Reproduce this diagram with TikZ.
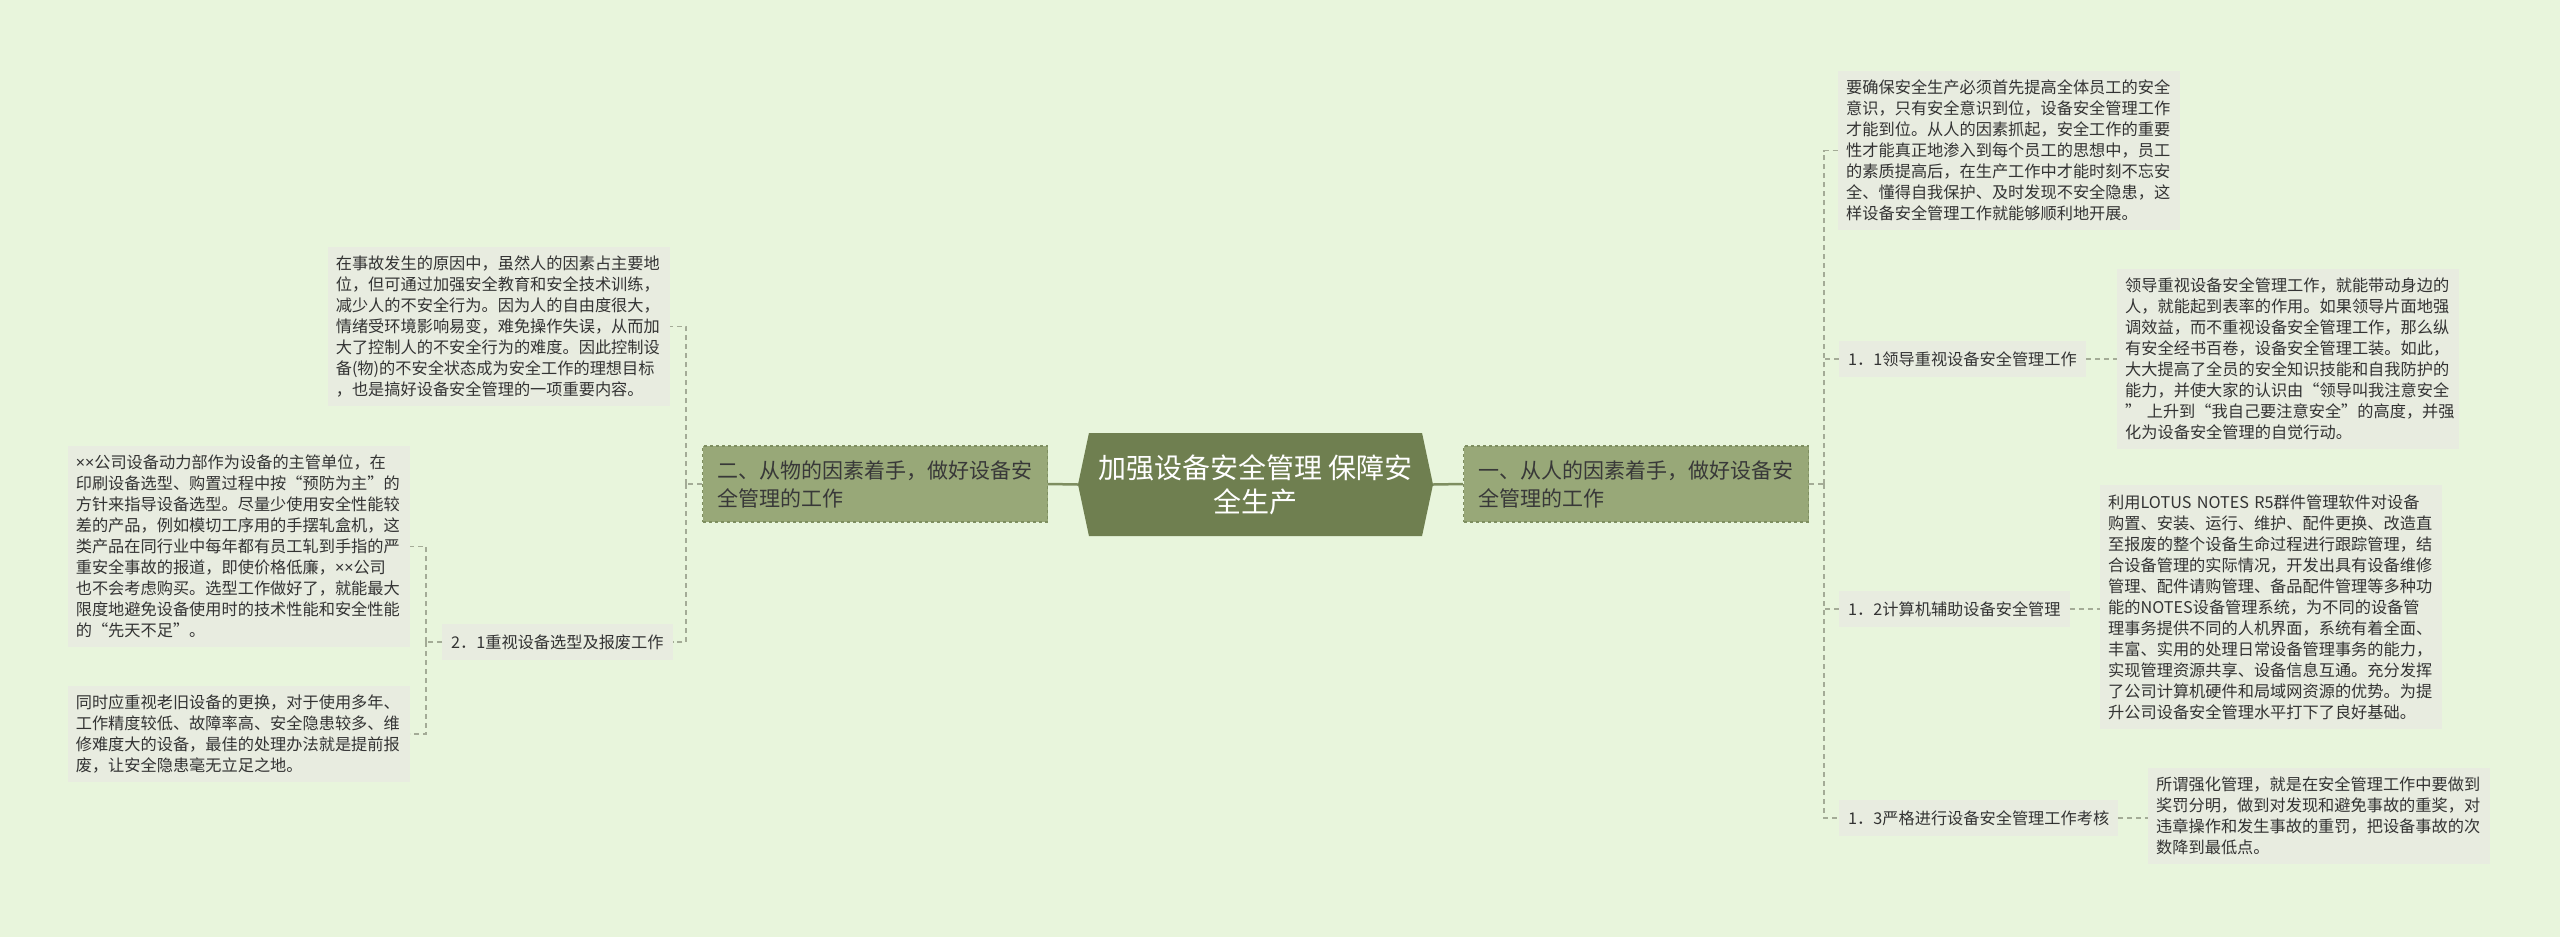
\documentclass[tikz,border=0pt]{standalone}
\usepackage{fontspec}
\setmainfont{Noto Sans CJK SC}
\newfontfamily\latinfont{Noto Sans}
\usepackage{tikz}
\usetikzlibrary{shapes.symbols}
\definecolor{bg}{HTML}{E8F5DC}
\definecolor{rootfill}{HTML}{6F7F50}
\definecolor{mainfill}{HTML}{98A878}
\definecolor{mainline}{HTML}{7E8E60}
\definecolor{boxfill}{HTML}{E8ECE0}
\definecolor{linkcol}{HTML}{A3AB96}
\definecolor{txt}{HTML}{333333}
\newcommand{\xx}{{\latinfont ××}}

\begin{document}
\begin{tikzpicture}[x=1pt,y=-1pt,
  root/.style={shape=signal, signal to=west and east, signal pointer angle=156,
    fill=rootfill, text=white, minimum width=355pt, minimum height=103pt,
    inner sep=0pt, align=center, font=\fontsize{28}{34}\selectfont},
  branch/.style={fill=mainfill, draw=mainline, dashed, line width=1.2pt,
    text=black!78, text width=315pt, align=left, inner xsep=15pt,
    minimum height=76pt, font=\fontsize{21}{28}\selectfont},
  sub/.style={fill=boxfill, text=txt, inner xsep=9pt, minimum height=36pt,
    font=\fontsize{16.2}{21}\selectfont},
  leaf/.style={fill=boxfill, text=txt, text width=326pt, align=left,
    inner xsep=8pt, inner ysep=9pt, font=\fontsize{16.2}{21}\selectfont},
  link/.style={draw=linkcol, line width=1.3pt, dash pattern=on 5pt off 4pt}]
  \def\rx{1824}
  \def\lx{686}
  \def\llx{426}

  \fill[bg] (0,0) rectangle (2560,937);
  \useasboundingbox (0,0) rectangle (2560,937);

  % Root and main branches
  \node[root] (root) at (1255.5,484.5) {加强设备安全管理 保障安\\全生产};
  \node[branch] (lmain) at (875,484) {二、从物的因素着手，做好设备安\\全管理的工作};
  \node[branch] (rmain) at (1636,484) {一、从人的因素着手，做好设备安\\全管理的工作};
  \draw[mainline, line width=2.5pt] (lmain.east) -- (root.west);
  \draw[mainline, line width=2.5pt] (root.east) -- (rmain.east -| rmain.west);

  % Right side
  \node[leaf, anchor=west] (safe) at (1838,150.5) {要确保安全生产必须首先提高全体员工的安全\\
意识，只有安全意识到位，设备安全管理工作\\
才能到位。从人的因素抓起，安全工作的重要\\
性才能真正地渗入到每个员工的思想中，员工\\
的素质提高后，在生产工作中才能时刻不忘安\\
全、懂得自我保护、及时发现不安全隐患，这\\
样设备安全管理工作就能够顺利地开展。};
  \node[sub, anchor=west] (lead) at (1839,359) {1．1领导重视设备安全管理工作};
  \node[sub, anchor=west] (comp) at (1839,609) {1．2计算机辅助设备安全管理};
  \node[sub, anchor=west] (check) at (1839,818) {1．3严格进行设备安全管理工作考核};

  \node[leaf, anchor=west] (leadtxt) at (2117,359) {领导重视设备安全管理工作，就能带动身边的\\
人，就能起到表率的作用。如果领导片面地强\\
调效益，而不重视设备安全管理工作，那么纵\\
有安全经书百卷，设备安全管理工装。如此，\\
大大提高了全员的安全知识技能和自我防护的\\
能力，并使大家的认识由“领导叫我注意安全\\
” 上升到“我自己要注意安全”的高度，并强\\
化为设备安全管理的自觉行动。};
  \node[leaf, anchor=west] (comptxt) at (2100,607) {利用LOTUS NOTES R5群件管理软件对设备\\
购置、安装、运行、维护、配件更换、改造直\\
至报废的整个设备生命过程进行跟踪管理，结\\
合设备管理的实际情况，开发出具有设备维修\\
管理、配件请购管理、备品配件管理等多种功\\
能的NOTES设备管理系统，为不同的设备管\\
理事务提供不同的人机界面，系统有着全面、\\
丰富、实用的处理日常设备管理事务的能力，\\
实现管理资源共享、设备信息互通。充分发挥\\
了公司计算机硬件和局域网资源的优势。为提\\
升公司设备安全管理水平打下了良好基础。};
  \node[leaf, anchor=west] (checktxt) at (2148,816) {所谓强化管理，就是在安全管理工作中要做到\\
奖罚分明，做到对发现和避免事故的重奖，对\\
违章操作和发生事故的重罚，把设备事故的次\\
数降到最低点。};

  \coordinate (rs) at (\rx,484);
  \draw[link] (rmain.east) -- (rs);
  \foreach \n in {safe,lead,comp,check}
    \draw[link] (rs) |- (\n.west);
  \draw[link] (lead.east) -- (lead.east -| leadtxt.west);
  \draw[link] (comp.east) -- (comp.east -| comptxt.west);
  \draw[link] (check.east) -- (check.east -| checktxt.west);

  % Left side
  \node[leaf, anchor=east] (thing) at (670,326.5) {在事故发生的原因中，虽然人的因素占主要地\\
位，但可通过加强安全教育和安全技术训练，\\
减少人的不安全行为。因为人的自由度很大，\\
情绪受环境影响易变，难免操作失误，从而加\\
大了控制人的不安全行为的难度。因此控制设\\
备(物)的不安全状态成为安全工作的理想目标\\
，也是搞好设备安全管理的一项重要内容。};
  \node[sub, anchor=west] (pick) at (442,642) {2．1重视设备选型及报废工作};
  \node[leaf, anchor=east] (picktxt) at (410,546.5) {\xx 公司设备动力部作为设备的主管单位，在\\
印刷设备选型、购置过程中按“预防为主”的\\
方针来指导设备选型。尽量少使用安全性能较\\
差的产品，例如模切工序用的手摆轧盒机，这\\
类产品在同行业中每年都有员工轧到手指的严\\
重安全事故的报道，即使价格低廉，\xx 公司\\
也不会考虑购买。选型工作做好了，就能最大\\
限度地避免设备使用时的技术性能和安全性能\\
的“先天不足”。};
  \node[leaf, anchor=east] (scrap) at (410,734) {同时应重视老旧设备的更换，对于使用多年、\\
工作精度较低、故障率高、安全隐患较多、维\\
修难度大的设备，最佳的处理办法就是提前报\\
废，让安全隐患毫无立足之地。};

  \coordinate (ls) at (\lx,484);
  \draw[link] (lmain.west) -- (ls);
  \foreach \n in {thing,pick}
    \draw[link] (ls) |- (\n.east);
  \coordinate (lls) at (\llx,642);
  \draw[link] (pick.west) -- (lls);
  \foreach \n in {picktxt,scrap}
    \draw[link] (lls) |- (\n.east);
\end{tikzpicture}
\end{document}
